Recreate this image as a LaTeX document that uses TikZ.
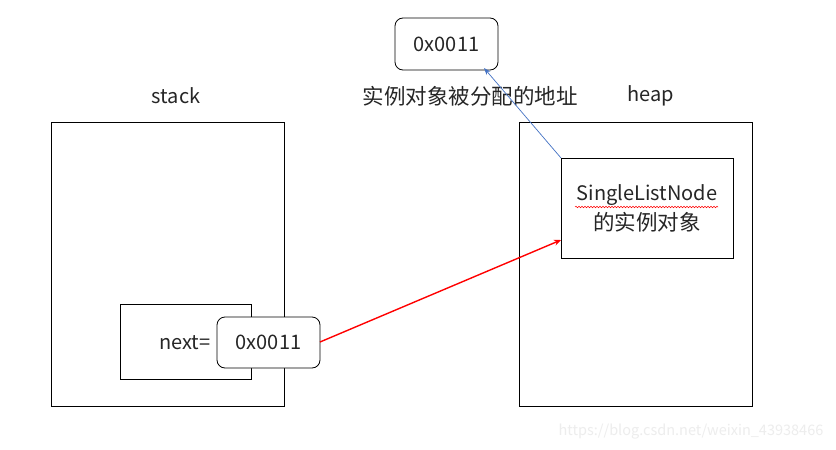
\documentclass[tikz,border=0pt]{standalone}
\usepackage{fontspec}
\setmainfont{Noto Sans CJK SC}
\usetikzlibrary{arrows.meta,decorations.pathmorphing}
\begin{document}
\begin{tikzpicture}[x=1pt,y=-1pt,
  box/.style={draw=black,line width=0.8pt,fill=white},
  rbox/.style={draw=black,line width=0.8pt,fill=white,rounded corners=8pt},
  lat/.style={font=\fontsize{20}{23}\selectfont,text=black!85,inner sep=0pt},
  cjk/.style={font=\fontsize{21.5}{26}\selectfont,text=black!85,inner sep=0pt}]
\useasboundingbox (0,0) rectangle (836,450);
\fill[white] (0,0) rectangle (836,450);
% outer boxes
\draw[box] (51,122) rectangle (284,406);
\draw[box] (519,122) rectangle (752,406);
\node[lat] (stacklbl) at (176,96) {stack};
\node[lat] (heaplbl) at (651,96) {heap};
\node[cjk] (addrlbl) at (470,96) {实例对象被分配的地址};
% top address box
\draw[rbox] (395,18) rectangle (498,70);
\node[lat] (topaddr) at (446.5,44) {0x0011};
\coordinate (topcorner) at (484,68);
% stack inner box
\draw[box] (120,304) rectangle (251,379);
\node[lat] (nextlbl) at (185,343) {next=};
\draw[rbox] (217,317) rectangle (320,368);
\node[lat] (nextaddr) at (268.5,342) {0x0011};
\coordinate (nextright) at (320,342);
% heap inner box
\draw[box] (561,158) rectangle (733,258);
\node[lat] (sln) at (647,195) {SingleListNode};
\node[cjk] (inst) at (647,222) {的实例对象};
\draw[red,line width=0.5pt,decorate,decoration={snake,amplitude=0.8pt,segment length=3pt}] (575,207) -- (718,207);
\coordinate (heapleft) at (561,240);
\coordinate (heapcorner) at (561,158);
% arrows
\draw[red,line width=1.4pt,-{Stealth[length=7pt,width=6pt]}] (nextright) -- (heapleft);
\draw[color={rgb,255:red,68;green,114;blue,196},line width=0.7pt,-{Stealth[length=7pt,width=5pt]}] (heapcorner) -- (topcorner);
% watermark
\node[font=\fontsize{14.5}{16}\selectfont,text=black!7,inner sep=0pt] (wm) at (691,432) {https://blog.csdn.net/weixin\_43938466};
\end{tikzpicture}
\end{document}
